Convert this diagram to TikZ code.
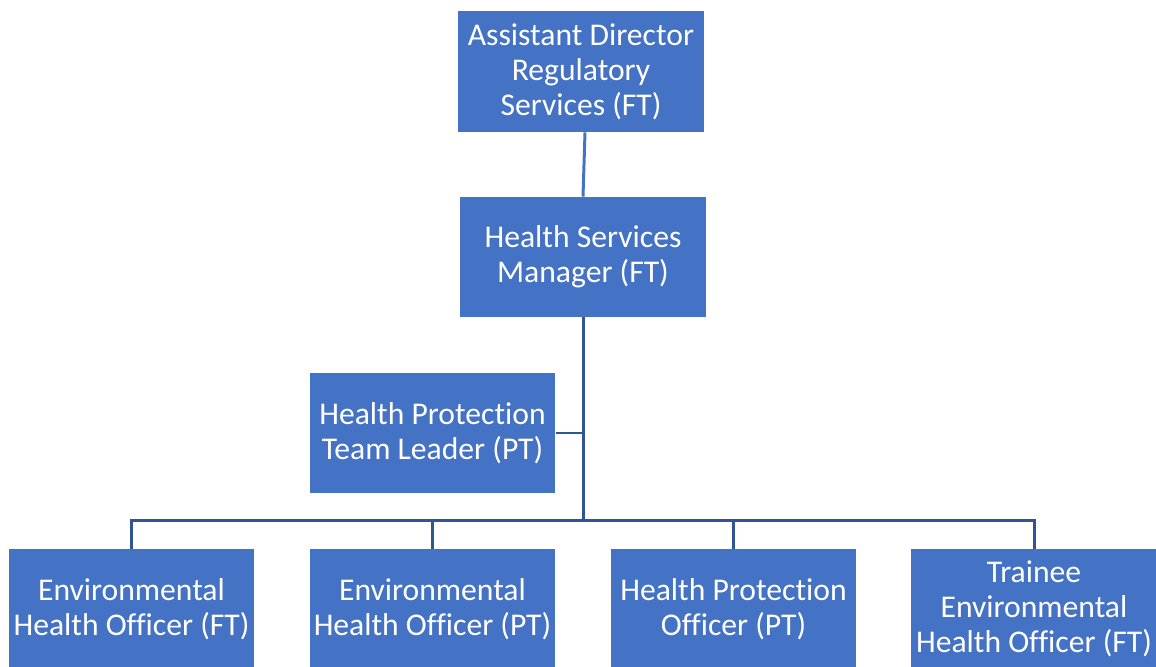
\documentclass[tikz,border=0pt]{standalone}
\usepackage{fontspec}
\setmainfont{Carlito}[Ligatures=NoCommon]
\usetikzlibrary{calc}
\definecolor{postblue}{HTML}{4472C4}
\definecolor{linkblue}{HTML}{2F5597}
\tikzset{
  post/.style = {fill = postblue, text = white, align = center,
    minimum width = 4.92cm, minimum height = 2.4cm, inner sep = 0pt,
    font = \fontsize{18}{19.9}\selectfont},
  link/.style = {draw = linkblue, line width = 1.7pt}
}

\begin{document}
\begin{tikzpicture}[x = 0.02cm, y = -0.02cm]
    \useasboundingbox (0,0) rectangle (1156,666);
    \node[post, minimum height = 2.42cm] (ad) at (581,71.5) {Assistant Director\\Regulatory\\Services (FT)};
    \node[post] (hsm) at (583,257) {Health Services\\Manager (FT)};
    \node[post] (tl) at (432.5,433) {Health Protection\\Team Leader (PT)};
    \node[post] (eho1) at (131.5,609) {Environmental\\Health Officer (FT)};
    \node[post] (eho2) at (432.5,609) {Environmental\\Health Officer (PT)};
    \node[post] (hpo) at (733.5,609) {Health Protection\\Officer (PT)};
    \node[post] (trainee) at (1034,609) {Trainee\\Environmental\\Health Officer (FT)};
    \coordinate (bus) at (583,520);
    \draw[link, draw = postblue] ($(ad.south)+(4,0)$) -- (hsm.north);
    \draw[link] (hsm.south) -- (bus);
    \draw[link] (tl.east) -- (tl.east -| bus);
    \foreach \n in {eho1, eho2, hpo, trainee}
      \draw[link] (bus) -| (\n.north);
\end{tikzpicture}
\end{document}
